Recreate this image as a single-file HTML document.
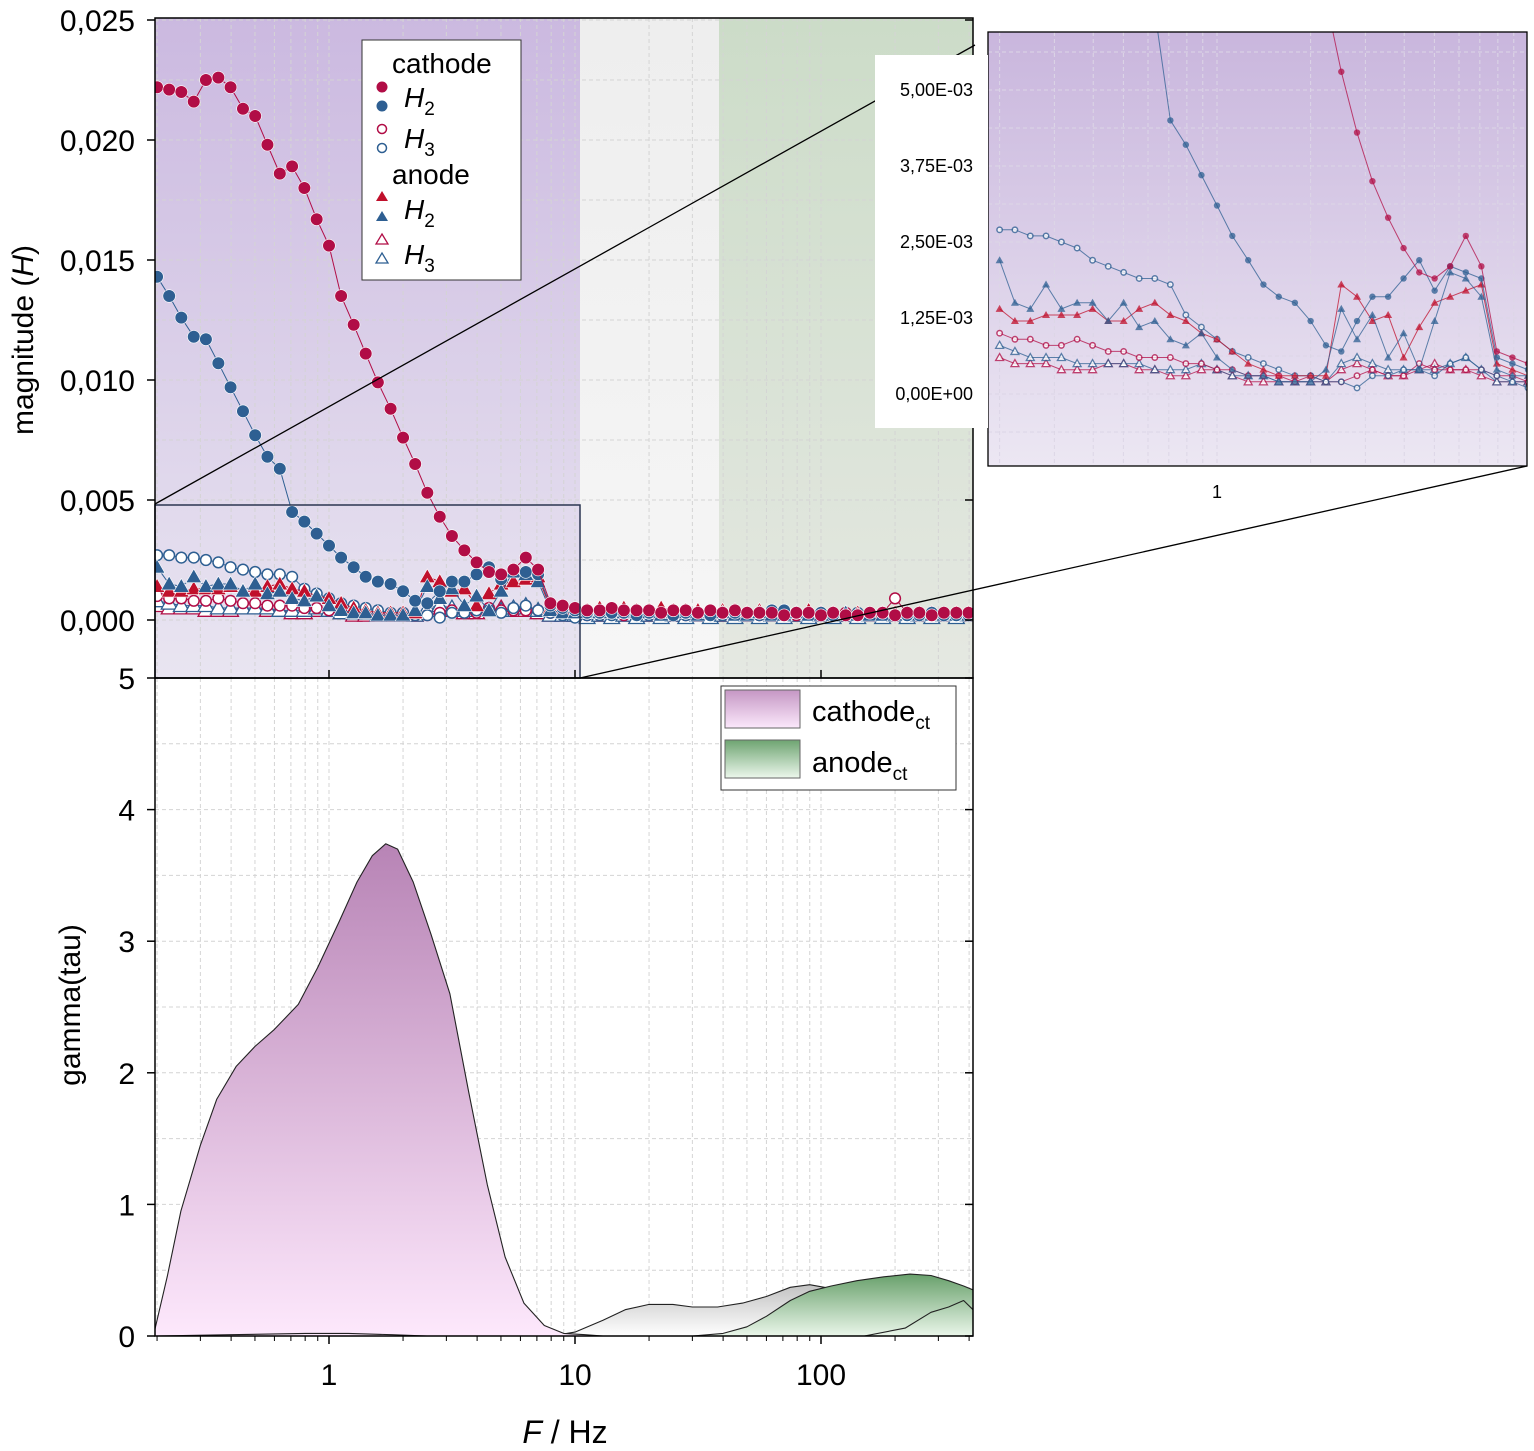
<!DOCTYPE html>
<html><head><meta charset="utf-8"><style>
body{margin:0;background:#fff;}
svg{display:block;font-family:"Liberation Sans",Arial,sans-serif;}
</style></head><body>
<svg id="chart" width="1534" height="1451" viewBox="0 0 1534 1451" xmlns="http://www.w3.org/2000/svg">
<defs>
<linearGradient id="gPurple" x1="0" y1="0" x2="0" y2="1"><stop offset="0" stop-color="#cbb9e0"/><stop offset="1" stop-color="#e9e5f1"/></linearGradient>
<linearGradient id="gGray" x1="0" y1="0" x2="0" y2="1"><stop offset="0" stop-color="#eeeeee"/><stop offset="1" stop-color="#f6f6f6"/></linearGradient>
<linearGradient id="gGreen" x1="0" y1="0" x2="0" y2="1"><stop offset="0" stop-color="#ccdcc8"/><stop offset="1" stop-color="#e5e8e2"/></linearGradient>
<linearGradient id="gInset" x1="0" y1="0" x2="0" y2="1"><stop offset="0" stop-color="#c9b6dd"/><stop offset="1" stop-color="#ece7f3"/></linearGradient>
<linearGradient id="fPink" gradientUnits="userSpaceOnUse" x1="0" y1="840" x2="0" y2="1336"><stop offset="0" stop-color="#b783b5"/><stop offset="1" stop-color="#fde8fc"/></linearGradient>
<linearGradient id="fGray" x1="0" y1="1280" x2="0" y2="1336" gradientUnits="userSpaceOnUse"><stop offset="0" stop-color="#bdbdbd"/><stop offset="1" stop-color="#ffffff"/></linearGradient>
<linearGradient id="fGreen" x1="0" y1="1270" x2="0" y2="1336" gradientUnits="userSpaceOnUse"><stop offset="0" stop-color="#5f9a62"/><stop offset="1" stop-color="#eaf6ea"/></linearGradient>
<linearGradient id="lgPink" x1="0" y1="0" x2="0" y2="1"><stop offset="0" stop-color="#c597c4"/><stop offset="1" stop-color="#fbe8fb"/></linearGradient>
<linearGradient id="lgGreen" x1="0" y1="0" x2="0" y2="1"><stop offset="0" stop-color="#6ea471"/><stop offset="1" stop-color="#ecf7ec"/></linearGradient>
<clipPath id="cTop"><rect x="155" y="18" width="818" height="660"/></clipPath>
<clipPath id="cBot"><rect x="155" y="678" width="818" height="658"/></clipPath>
<clipPath id="cIn"><rect x="988" y="32" width="539" height="434"/></clipPath>
</defs>
<g id="topBg">
<rect x="155" y="18" width="425" height="660" fill="url(#gPurple)"/>
<rect x="580" y="18" width="139" height="660" fill="url(#gGray)"/>
<rect x="719" y="18" width="254" height="660" fill="url(#gGreen)"/>
</g>
<g id="gridTop"></g>
<g id="gridBot"></g>
<g id="gammaG" clip-path="url(#cBot)"></g>
<g id="seriesG" clip-path="url(#cTop)"></g>
<rect x="155" y="505" width="425" height="173" fill="none" stroke="#2a3550" stroke-width="1.5"/>
<g id="frame" fill="none" stroke="#000" stroke-width="1.5">
<rect x="155" y="18" width="818" height="660"/>
<rect x="155" y="678" width="818" height="658"/>
</g>
<g id="ticks"></g>
<text transform="translate(33,340) rotate(-90)" text-anchor="middle" font-size="30">magnitude (<tspan font-style="italic">H</tspan>)</text>
<text transform="translate(80,1005) rotate(-90)" text-anchor="middle" font-size="30">gamma(tau)</text>
<text x="565" y="1443" text-anchor="middle" font-size="32"><tspan font-style="italic">F</tspan> / Hz</text>
<g>
<rect x="362" y="40" width="159" height="240" fill="#fff" stroke="#333" stroke-width="1"/>
<text x="392" y="73" font-size="28">cathode</text>
<circle cx="382" cy="87" r="5.5" fill="#b10d46"/><circle cx="382" cy="106" r="5.5" fill="#2e5f92"/>
<text x="404" y="107" font-size="28" font-style="italic">H<tspan font-size="19" dy="8" font-style="normal">2</tspan></text>
<circle cx="382" cy="129" r="4.5" fill="#fff" stroke="#b10d46" stroke-width="1.5"/><circle cx="382" cy="148" r="4.5" fill="#fff" stroke="#2e5f92" stroke-width="1.5"/>
<text x="404" y="148" font-size="28" font-style="italic">H<tspan font-size="19" dy="8" font-style="normal">3</tspan></text>
<text x="392" y="184" font-size="28">anode</text>
<polygon points="382,191 388,201 376,201" fill="#c0102c"/><polygon points="382,211 388,221 376,221" fill="#2e5f92"/>
<text x="404" y="219" font-size="28" font-style="italic">H<tspan font-size="19" dy="8" font-style="normal">2</tspan></text>
<polygon points="382,234 388,244 376,244" fill="#fff" stroke="#b10d46" stroke-width="1.3"/><polygon points="382,253 388,263 376,263" fill="#fff" stroke="#2e5f92" stroke-width="1.3"/>
<text x="404" y="264" font-size="28" font-style="italic">H<tspan font-size="19" dy="8" font-style="normal">3</tspan></text>
</g>
<g>
<rect x="721" y="686" width="235" height="104" fill="#fff" stroke="#333" stroke-width="1"/>
<rect x="725" y="690" width="75" height="38" fill="url(#lgPink)" stroke="#666"/>
<text x="812" y="721" font-size="29">cathode<tspan font-size="19" dy="8">ct</tspan></text>
<rect x="725" y="740" width="75" height="38" fill="url(#lgGreen)" stroke="#666"/>
<text x="812" y="772" font-size="29">anode<tspan font-size="19" dy="8">ct</tspan></text>
</g>
<g stroke="#000" stroke-width="1.3">
<line x1="155" y1="504" x2="975" y2="45"/>
<line x1="580" y1="678" x2="1527" y2="466"/>
</g>
<g id="inset">
<rect x="988" y="32" width="539" height="434" fill="url(#gInset)"/>
<g id="insetGrid"></g>
<g id="insetSeries" clip-path="url(#cIn)"></g>
<rect x="988" y="32" width="539" height="434" fill="none" stroke="#000" stroke-width="1.3"/>
<rect x="875" y="55" width="113" height="373" fill="#fff"/>
<g id="insetLabels"></g>
</g>
<script>
const freqs=[0.2,0.224,0.251,0.282,0.316,0.355,0.398,0.447,0.501,0.562,0.631,0.708,0.794,0.891,1,1.12,1.26,1.41,1.58,1.78,2,2.24,2.51,2.82,3.16,3.55,3.98,4.47,5.01,5.62,6.31,7.08,7.94,8.91,10,
11.2,12.6,14.1,15.8,17.8,20,22.4,25.1,28.2,31.6,35.5,39.8,44.7,50.1,56.2,63.1,70.8,79.4,89.1,100,112,126,141,158,178,200,224,251,282,316,355,398];
const cathodeH2Red=[0.0222,0.0221,0.0220,0.0216,0.0225,0.0226,0.0222,0.0213,0.0210,0.0198,0.0186,0.0189,0.0180,0.0167,0.0156,0.0135,0.0123,0.0111,0.0099,0.0088,0.0076,0.0065,0.0053,0.0043,0.0035,0.0029,0.0024,0.0020,0.0019,0.0021,0.0026,0.0021,0.0007,0.0006,0.0005,
0.0004,0.0004,0.0005,0.0004,0.0004,0.0004,0.0003,0.0004,0.0004,0.0003,0.0004,0.0003,0.0004,0.0003,0.0003,0.0003,0.0002,0.0003,0.0003,0.0002,0.0003,0.0002,0.0002,0.0003,0.0003,0.0002,0.0003,0.0003,0.0002,0.0003,0.0003,0.0003];
const cathodeH2Blue=[0.0143,0.0135,0.0126,0.0118,0.0117,0.0107,0.0097,0.0087,0.0077,0.0068,0.0063,0.0045,0.0041,0.0036,0.0031,0.0026,0.0022,0.0018,0.0016,0.0015,0.0012,0.0008,0.0007,0.0012,0.0016,0.0016,0.0019,0.0022,0.0017,0.0021,0.0020,0.0019,0.0006,0.0005,0.0004,
0.0003,0.0003,0.0003,0.0003,0.0002,0.0003,0.0003,0.0002,0.0003,0.0003,0.0002,0.0003,0.0003,0.0003,0.0003,0.0004,0.0004,0.0003,0.0003,0.0003,0.0002,0.0002,0.0002,0.0003,0.0003,0.0002,0.0002,0.0002,0.0003,0.0002,0.0002,0.0002];
const cathodeH3Red=[0.0010,0.0009,0.0009,0.0008,0.0008,0.0009,0.0008,0.0007,0.0007,0.0006,0.0006,0.0006,0.0005,0.0005,0.0004,0.0004,0.0003,0.0003,0.0003,0.0002,0.0003,0.0002,0.0002,0.0003,0.0004,0.0003,0.0003,0.0005,0.0004,0.0004,0.0004,0.0004,0.0003,0.0003,0.0002,
0.0002,0.0002,0.0003,0.0002,0.0002,0.0002,0.0003,0.0002,0.0002,0.0002,0.0003,0.0002,0.0002,0.0002,0.0002,0.0003,0.0002,0.0002,0.0002,0.0002,0.0002,0.0003,0.0002,0.0002,0.0003,0.0009,0.0003,0.0002,0.0002,0.0003,0.0002,0.0002];
const cathodeH3Blue=[0.0027,0.0027,0.0026,0.0026,0.0025,0.0024,0.0022,0.0021,0.0020,0.0019,0.0019,0.0018,0.0013,0.0011,0.0009,0.0007,0.0006,0.0005,0.0004,0.0003,0.0003,0.0002,0.0002,0.0001,0.0003,0.0003,0.0004,0.0004,0.0003,0.0005,0.0006,0.0004,0.0003,0.0002,0.0001,
0.0002,0.0002,0.0002,0.0003,0.0002,0.0002,0.0002,0.0003,0.0002,0.0002,0.0002,0.0002,0.0003,0.0002,0.0002,0.0002,0.0002,0.0003,0.0002,0.0002,0.0002,0.0002,0.0003,0.0002,0.0002,0.0002,0.0003,0.0002,0.0002,0.0002,0.0003,0.0002];
const anodeH2Red=[0.0014,0.0012,0.0012,0.0013,0.0013,0.0013,0.0014,0.0012,0.0012,0.0014,0.0015,0.0013,0.0012,0.0010,0.0009,0.0007,0.0005,0.0004,0.0003,0.0003,0.0003,0.0003,0.0018,0.0016,0.0012,0.0013,0.0006,0.0011,0.0015,0.0016,0.0017,0.0018,0.0005,0.0004,0.0003,
0.0004,0.0005,0.0004,0.0005,0.0004,0.0004,0.0005,0.0004,0.0004,0.0004,0.0003,0.0004,0.0004,0.0003,0.0004,0.0003,0.0003,0.0003,0.0004,0.0003,0.0003,0.0003,0.0003,0.0002,0.0003,0.0003,0.0003,0.0003,0.0003,0.0002,0.0003,0.0003];
const anodeH2Blue=[0.0022,0.0015,0.0014,0.0018,0.0014,0.0015,0.0015,0.0012,0.0015,0.0011,0.0012,0.0009,0.0008,0.0010,0.0006,0.0004,0.0003,0.0003,0.0002,0.0002,0.0002,0.0004,0.0014,0.0009,0.0013,0.0006,0.0010,0.0004,0.0012,0.0020,0.0019,0.0016,0.0004,0.0003,0.0003,
0.0003,0.0003,0.0004,0.0003,0.0003,0.0003,0.0002,0.0003,0.0003,0.0002,0.0003,0.0003,0.0002,0.0002,0.0003,0.0002,0.0002,0.0003,0.0002,0.0002,0.0002,0.0003,0.0002,0.0002,0.0002,0.0002,0.0003,0.0002,0.0002,0.0002,0.0002,0.0002];
const anodeH3Red=[0.0006,0.0005,0.0005,0.0005,0.0004,0.0004,0.0004,0.0005,0.0005,0.0004,0.0004,0.0003,0.0003,0.0004,0.0004,0.0003,0.0002,0.0002,0.0002,0.0002,0.0002,0.0002,0.0004,0.0005,0.0004,0.0003,0.0003,0.0004,0.0005,0.0004,0.0004,0.0003,0.0002,0.0002,0.0002,
0.0002,0.0002,0.0002,0.0002,0.0002,0.0002,0.0002,0.0002,0.0002,0.0002,0.0002,0.0002,0.0002,0.0002,0.0002,0.0002,0.0002,0.0002,0.0002,0.0002,0.0002,0.0002,0.0002,0.0002,0.0002,0.0002,0.0002,0.0002,0.0002,0.0002,0.0002,0.0002];
const anodeH3Blue=[0.0008,0.0007,0.0006,0.0006,0.0006,0.0005,0.0005,0.0005,0.0005,0.0005,0.0004,0.0004,0.0004,0.0005,0.0004,0.0003,0.0003,0.0003,0.0002,0.0002,0.0002,0.0002,0.0005,0.0006,0.0005,0.0004,0.0004,0.0004,0.0004,0.0005,0.0006,0.0004,0.0002,0.0002,0.0002,
0.0001,0.0002,0.0001,0.0002,0.0001,0.0002,0.0001,0.0002,0.0001,0.0002,0.0001,0.0002,0.0001,0.0002,0.0001,0.0002,0.0001,0.0002,0.0001,0.0002,0.0001,0.0002,0.0001,0.0002,0.0001,0.0002,0.0001,0.0002,0.0001,0.0002,0.0001,0.0002];
const gammaCathodeF=[0.196,0.22,0.25,0.3,0.35,0.42,0.5,0.6,0.75,0.9,1.1,1.3,1.5,1.7,1.9,2.2,2.6,3.1,3.7,4.4,5.2,6.2,7.5,9,11,13];
const gammaCathodeV=[0.05,0.45,0.95,1.45,1.8,2.05,2.2,2.33,2.52,2.8,3.15,3.45,3.65,3.74,3.7,3.45,3.05,2.6,1.85,1.15,0.6,0.25,0.08,0.02,0.01,0.0];
const gammaMidF=[8,10,13,16,20,25,30,38,48,60,75,90,110,140,180,250,330,415];
const gammaMidV=[0,0.03,0.12,0.2,0.24,0.24,0.22,0.22,0.25,0.3,0.37,0.39,0.36,0.28,0.18,0.1,0.06,0.04];
const gammaAnodeF=[30,40,50,60,75,90,110,140,180,230,280,330,380,415];
const gammaAnodeV=[0,0.02,0.07,0.15,0.27,0.34,0.38,0.42,0.45,0.47,0.46,0.42,0.38,0.35];
const gammaAnode2F=[150,220,280,330,380,415];
const gammaAnode2V=[0,0.06,0.18,0.22,0.27,0.2];
const gammaSmallF=[0.196,0.4,0.8,1.2,1.8,2.5];
const gammaSmallV=[0.0,0.01,0.02,0.02,0.01,0.0];
const topTicks=["0,000","0,005","0,010","0,015","0,020","0,025"];
const topTickVals=[0,0.005,0.010,0.015,0.020,0.025];
const botTicks=["0","1","2","3","4","5"];
const xTickVals=[1,10,100];
const xTickLabels=["1","10","100"];
const insetTickVals=[0,0.00125,0.0025,0.00375,0.005];
const insetTickLabels=["0,00E+00","1,25E-03","2,50E-03","3,75E-03","5,00E-03"];

const NS="http://www.w3.org/2000/svg";
const xS=f=>329+246*Math.log10(f);
const yT=v=>620-v*24000;
const yB=g=>1336-g*131.6;
const xI=f=>1217+311*Math.log10(f);
const yI=v=>394-v*60800;
function mk(tag,attrs,parent){const e=document.createElementNS(NS,tag);for(const k in attrs)e.setAttribute(k,attrs[k]);parent.appendChild(e);return e;}
const $=id=>document.getElementById(id);

const gT=$('gridTop'),gB=$('gridBot'),gI=$('insetGrid');
for(let d=-1;d<=2;d++)for(let m=1;m<10;m++){const f=m*Math.pow(10,d);const x=xS(f);
 if(x>155&&x<973){mk('line',{x1:x,y1:18,x2:x,y2:678,stroke:'#d4d4d4','stroke-dasharray':'4,3','stroke-width':1},gT);
 mk('line',{x1:x,y1:678,x2:x,y2:1336,stroke:'#d4d4d4','stroke-dasharray':'4,3','stroke-width':1},gB);}
 const xi=xI(f); if(xi>988&&xi<1527) mk('line',{x1:xi,y1:32,x2:xi,y2:466,stroke:'#dcd6e6','stroke-dasharray':'4,3'},gI);}
for(let v=0;v<=0.025;v+=0.0025){mk('line',{x1:155,y1:yT(v),x2:973,y2:yT(v),stroke:'#d4d4d4','stroke-dasharray':'4,3'},gT);}
for(let g=0.5;g<5;g+=0.5){mk('line',{x1:155,y1:yB(g),x2:973,y2:yB(g),stroke:'#d4d4d4','stroke-dasharray':'4,3'},gB);}
for(let v=-0.000625;v<0.006;v+=0.000625){mk('line',{x1:988,y1:yI(v),x2:1527,y2:yI(v),stroke:'#dcd6e6','stroke-dasharray':'4,3'},gI);}

const gg=$('gammaG');
function area(F,V,fill,name){let d='M'+xS(F[0])+','+yB(0);F.forEach((f,i)=>d+=' L'+xS(f).toFixed(1)+','+yB(V[i]).toFixed(1));d+=' L'+xS(F[F.length-1])+','+yB(0)+' Z';
 const p=mk('path',{d:d,fill:fill,stroke:'none'},gg);
 
 
 let l='M'+F.map((f,i)=>xS(f).toFixed(1)+','+yB(V[i]).toFixed(1)).join(' L');
 mk('path',{d:l,fill:'none',stroke:'#222','stroke-width':1.1,'stroke-linejoin':'round'},gg);}
area(gammaMidF,gammaMidV,'url(#fGray)','gamma-intermediate-area');
area(gammaAnodeF,gammaAnodeV,'url(#fGreen)','gamma-anode-area');
area(gammaAnode2F,gammaAnode2V,'url(#fGreen)','gamma-anode-second-area');
area(gammaCathodeF,gammaCathodeV,'url(#fPink)','gamma-cathode-area');
area(gammaSmallF,gammaSmallV,'none','gamma-small-curve');

const RED='#b10d46',BLUE='#2e5f92';
const series=[
 {v:anodeH3Red,c:RED,s:'tri',o:true,n:'anode-h3-red'},
 {v:anodeH3Blue,c:BLUE,s:'tri',o:true,n:'anode-h3-blue'},
 {v:cathodeH3Red,c:RED,s:'cir',o:true,n:'cathode-h3-red'},
 {v:cathodeH3Blue,c:BLUE,s:'cir',o:true,n:'cathode-h3-blue'},
 {v:anodeH2Red,c:'#c0102c',s:'tri',o:false,n:'anode-h2-red'},
 {v:anodeH2Blue,c:BLUE,s:'tri',o:false,n:'anode-h2-blue'},
 {v:cathodeH2Blue,c:BLUE,s:'cir',o:false,n:'cathode-h2-blue'},
 {v:cathodeH2Red,c:RED,s:'cir',o:false,n:'cathode-h2-red'}];
function drawSeries(parent,xf,yf,r,lc,op){
 series.forEach(S=>{const g=mk('g',{},parent);
  
  
  mk('path',{d:'M'+freqs.map((f,i)=>xf(f).toFixed(1)+','+yf(S.v[i]).toFixed(1)).join(' L'),fill:'none',stroke:S.c,'stroke-width':1,opacity:op},g);
  freqs.forEach((f,i)=>{const x=xf(f),y=yf(S.v[i]);let m;
   const fill=S.o?'#fff':S.c,st=S.o?S.c:(lc?'#fff':'none');
   if(S.s==='cir')m=mk('circle',{cx:x,cy:y,r:S.o?r*0.85:r,fill:fill,stroke:S.o?S.c:st,'stroke-width':S.o?1.5:0.6,opacity:op},g);
   else{const a=r*1.25;m=mk('polygon',{points:`${x},${y-a} ${x+a},${y+a*0.75} ${x-a},${y+a*0.75}`,fill:fill,stroke:S.o?S.c:st,'stroke-width':S.o?1.3:0.6,opacity:op},g);}
   
   
  });});}
drawSeries($('seriesG'),xS,yT,6.3,true,1);
drawSeries($('insetSeries'),xI,yI,3.2,false,0.75);

const tk=$('ticks');
topTickVals.forEach((v,i)=>{const y=yT(v);
 mk('line',{x1:147,y1:y,x2:155,y2:y,stroke:'#000','stroke-width':1.5},tk);
 mk('line',{x1:965,y1:y,x2:973,y2:y,stroke:'#000','stroke-width':1.5},tk);
 const t=mk('text',{x:135,y:y+11,'text-anchor':'end','font-size':30},tk);t.textContent=topTicks[i];
 
 });
botTicks.forEach((l,i)=>{const y=yB(i);
 mk('line',{x1:147,y1:y,x2:155,y2:y,stroke:'#000','stroke-width':1.5},tk);
 mk('line',{x1:965,y1:y,x2:973,y2:y,stroke:'#000','stroke-width':1.5},tk);
 const t=mk('text',{x:135,y:y+11,'text-anchor':'end','font-size':30},tk);t.textContent=l;
 
 });
xTickVals.forEach((f,i)=>{const x=xS(f);
 mk('line',{x1:x,y1:1336,x2:x,y2:1344,stroke:'#000','stroke-width':1.5},tk);
 mk('line',{x1:x,y1:678,x2:x,y2:670,stroke:'#000','stroke-width':1.5},tk);
 const t=mk('text',{x:x,y:1385,'text-anchor':'middle','font-size':30},tk);t.textContent=xTickLabels[i];
 
 });
for(let d=-1;d<=2;d++)for(let m=2;m<10;m++){const x=xS(m*Math.pow(10,d));if(x>155&&x<973)mk('line',{x1:x,y1:1336,x2:x,y2:1341,stroke:'#000','stroke-width':1},tk);}
const il=$('insetLabels');
insetTickVals.forEach((v,i)=>{const t=mk('text',{x:973,y:yI(v)+6,'text-anchor':'end','font-size':18,'font-weight':'500'},il);t.textContent=insetTickLabels[i];
 
 });
const it=mk('text',{x:xI(1),y:498,'text-anchor':'middle','font-size':18},il);it.textContent='1';


</script>
</svg>
</body></html>
